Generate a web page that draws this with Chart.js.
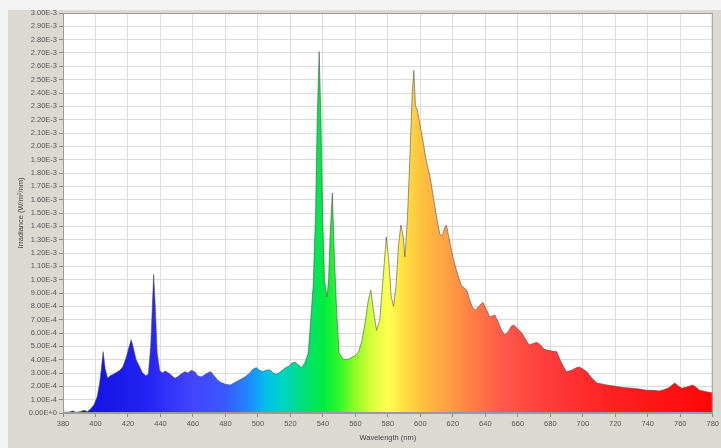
<!DOCTYPE html>
<html>
<head>
<meta charset="utf-8">
<script src="https://cdn.jsdelivr.net/npm/chart.js@4/dist/chart.umd.min.js"></script>
<style>
  html, body { margin: 0; padding: 0; background: #f3f3f3; }
  #wrap { width: 721px; height: 448px; }
</style>
</head>
<body>
<div id="wrap"><canvas id="spectrum" width="721" height="448"></canvas></div>
<script>
// Spectral irradiance of a metal-halide lamp, 380–780 nm.
const wavelengths = [
  380, 384, 386, 388, 391, 393, 395, 397, 399, 401, 402.5, 403.5, 404.7, 406, 407.5,
  409, 411, 413, 415, 417, 419, 420.5, 422, 423.5, 425, 427, 429, 431, 432.5, 434,
  435, 435.8, 436.8, 438, 439.5, 441, 443, 445, 447, 449, 451, 453, 455, 457, 459,
  461, 463, 465, 467, 469, 471, 473, 475, 477, 480, 483, 486, 489, 492, 495,
  497, 499, 501, 503, 505, 507, 509, 511, 513, 515, 517, 519, 521, 523, 525,
  527, 529, 531, 532.5, 534, 535.5, 536.5, 537.7, 538.8, 539.8, 541, 542.5, 543.5, 544.5, 545.8,
  547, 548.5, 550, 552, 554, 556, 558, 560, 562, 564, 566, 568, 569.5, 571, 573,
  575, 577, 579, 580.5, 582, 583.5, 585, 586.5, 588, 589.5, 590.5, 592, 593.5, 595, 596,
  597, 598, 599.5, 601.5, 603.5, 606, 608, 610, 612, 613.5, 615, 616, 617.5, 620, 622,
  624, 625.5, 627, 628.6, 630, 632, 634, 636, 638.5, 640.5, 642.8, 645.8, 648, 650, 652,
  654, 656, 657.5, 660, 662.5, 665, 667, 669, 671.7, 674, 676, 678.5, 681, 684, 686,
  688, 690, 693, 696, 698, 700, 702.5, 705, 708.6, 711, 714.8, 718, 722.8, 726, 730.8,
  735, 739.4, 743, 747, 750, 753, 756.6, 759, 761, 764, 767.7, 770, 772, 776, 780
];

// Irradiance in units of 1E-4 W/m²/nm, one value per wavelength above.
const irradianceE4 = [
  0.05, 0.08, 0.15, 0.05, 0.12, 0.2, 0.1, 0.3, 0.6, 1.2, 2.2, 3.2, 4.6, 3.3, 2.6,
  2.8, 2.9, 3.05, 3.2, 3.5, 4.2, 4.9, 5.5, 4.8, 4.0, 3.5, 3.0, 2.8, 2.9, 5.0,
  8.0, 10.4, 8.0, 4.5, 3.2, 3.0, 3.15, 3.0, 2.8, 2.6, 2.75, 2.95, 3.1, 3.0, 3.2,
  3.1, 2.8, 2.7, 2.85, 3.0, 3.1, 2.8, 2.5, 2.3, 2.15, 2.1, 2.3, 2.5, 2.7, 3.0,
  3.3, 3.4, 3.2, 3.1, 3.2, 3.25, 3.05, 2.9, 3.0, 3.2, 3.4, 3.5, 3.75, 3.8, 3.6,
  3.4, 3.8, 4.5, 7.0, 9.5, 15.0, 22.0, 27.1, 22.0, 15.0, 10.0, 8.7, 10.0, 13.5, 16.5,
  12.0, 7.5, 4.5, 4.1, 4.0, 4.05, 4.2, 4.3, 4.6, 5.4, 6.8, 8.5, 9.2, 7.8, 6.2,
  7.0, 10.0, 13.2, 11.5, 8.8, 8.0, 9.5, 12.5, 14.1, 13.2, 11.7, 14.5, 19.0, 24.0, 25.7,
  23.0, 22.8, 21.8, 20.5, 19.0, 17.7, 16.2, 14.7, 13.4, 13.3, 13.9, 14.1, 13.2, 11.7, 10.8,
  10.0, 9.5, 9.4, 9.2, 8.6, 7.95, 7.7, 8.0, 8.3, 7.8, 7.2, 7.35, 6.8, 6.2, 5.85,
  6.1, 6.5, 6.6, 6.3, 6.0, 5.5, 5.1, 5.2, 5.3, 5.1, 4.8, 4.7, 4.65, 4.6, 4.0,
  3.5, 3.1, 3.2, 3.4, 3.45, 3.3, 3.1, 2.7, 2.25, 2.2, 2.1, 2.05, 1.95, 1.9, 1.85,
  1.8, 1.7, 1.7, 1.65, 1.75, 1.9, 2.25, 2.0, 1.85, 1.95, 2.1, 1.9, 1.7, 1.6, 1.5
];

// Axis ranges and tick steps.
const xRange = [380, 780];
const xStep = 20;
const yRange = [0, 0.003];
const yStep = 0.0001;

const xTitle = 'Wavelength (nm)';
const yTitle = 'Irradiance (W/m²/nm)';

// Colour of the fill at each wavelength (approximate visible-spectrum hues).
const spectrumStops = [
  [380, '#0000c8'], [400, '#1414e6'], [430, '#2222f2'], [460, '#4444ff'],
  [480, '#3a58ff'], [495, '#1e8cff'], [505, '#00c0ea'], [515, '#00d2c4'],
  [530, '#00e070'], [540, '#00ec40'], [550, '#30f828'], [560, '#90fc28'],
  [570, '#d8ff38'], [580, '#ffff50'], [590, '#ffe040'], [600, '#ffc440'],
  [615, '#ffa442'], [630, '#ff8244'], [650, '#ff5a4a'], [680, '#ff3a3a'],
  [720, '#ff2020'], [780, '#ff0606']
];

const points = wavelengths.map((w, i) => ({ x: w, y: irradianceE4[i] * 1e-4 }));

function spectrumFill(context) {
  const chart = context.chart;
  const area = chart.chartArea;
  if (!area) return '#4444ff';
  const xs = chart.scales.x;
  const g = chart.ctx.createLinearGradient(area.left, 0, area.right, 0);
  const span = area.right - area.left;
  spectrumStops.forEach(([w, c]) => {
    const t = (xs.getPixelForValue(w) - area.left) / span;
    g.addColorStop(Math.min(1, Math.max(0, t)), c);
  });
  return g;
}

// Window-style grey panel, white plotting area and frame.
const panelPlugin = {
  id: 'panel',
  beforeDraw(chart) {
    const { ctx, chartArea: a, width, height } = chart;
    ctx.save();
    ctx.fillStyle = '#f3f3f3';
    ctx.fillRect(0, 0, width, height);
    ctx.fillStyle = '#dcd9d2';
    ctx.fillRect(8, 10, width - 8, height - 10);
    ctx.fillStyle = '#ffffff';
    ctx.fillRect(a.left, a.top, a.right - a.left, a.bottom - a.top);
    ctx.restore();
  },
  afterDatasetsDraw(chart) {
    const { ctx, chartArea: a } = chart;
    ctx.save();
    ctx.strokeStyle = '#9a9a9a';
    ctx.lineWidth = 1;
    ctx.strokeRect(a.left + 0.5, a.top + 0.5, a.right - a.left - 1, a.bottom - a.top - 1);
    ctx.restore();
  }
};

const tickFont = { family: 'Liberation Sans, Arial, sans-serif', size: 7.5 };

new Chart(document.getElementById('spectrum'), {
  type: 'line',
  data: {
    datasets: [{
      data: points,
      fill: 'origin',
      backgroundColor: spectrumFill,
      borderColor: 'rgba(70,70,70,0.55)',
      borderWidth: 1,
      pointRadius: 0,
      tension: 0
    }]
  },
  options: {
    responsive: false,
    animation: false,
    devicePixelRatio: 1,
    layout: { padding: { left: 8, top: 13, right: 8, bottom: 0 } },
    plugins: { legend: { display: false }, tooltip: { enabled: false } },
    scales: {
      x: {
        type: 'linear',
        min: xRange[0],
        max: xRange[1],
        afterFit(scale) { scale.height = 35; },
        ticks: {
          stepSize: xStep,
          maxTicksLimit: 30,
          autoSkip: false,
          maxRotation: 0,
          padding: 2,
          color: '#555',
          font: tickFont
        },
        grid: { color: '#dcdcdc', tickColor: '#888', tickLength: 4 },
        border: { display: true, color: '#9a9a9a' },
        title: {
          display: true,
          text: xTitle,
          color: '#444',
          font: tickFont,
          padding: { top: 0, bottom: 6 }
        }
      },
      y: {
        type: 'linear',
        min: yRange[0],
        max: yRange[1],
        afterFit(scale) { scale.width = 55; },
        ticks: {
          stepSize: yStep,
          maxTicksLimit: 40,
          autoSkip: false,
          padding: 2,
          color: '#555',
          font: tickFont,
          callback: v => Number(v).toExponential(2).toUpperCase()
        },
        grid: { color: '#dcdcdc', tickColor: '#888', tickLength: 4 },
        border: { display: true, color: '#9a9a9a' },
        title: {
          display: true,
          text: yTitle,
          color: '#444',
          font: tickFont,
          padding: { top: 8, bottom: 0 }
        }
      }
    }
  },
  plugins: [panelPlugin]
});
</script>
</body>
</html>
